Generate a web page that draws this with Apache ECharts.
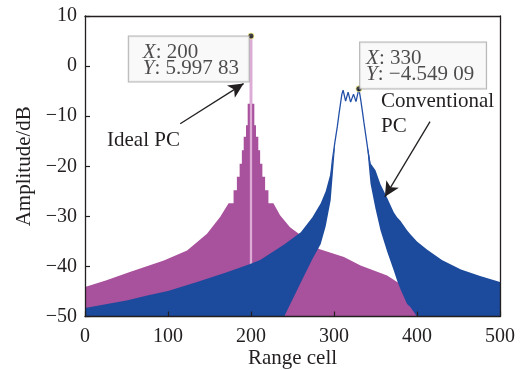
<!DOCTYPE html>
<html>
<head>
<meta charset="utf-8">
<script src="https://cdn.jsdelivr.net/npm/echarts@6/dist/echarts.min.js"></script>
<style>
  html, body { margin: 0; padding: 0; background: #fff; }
  #chart { width: 531px; height: 370px; }
</style>
</head>
<body>
<div id="chart"></div>
<script>
// Range axis and amplitude axis
const xTicks = [0, 100, 200, 300, 400, 500];
const yTicks = [-50, -40, -30, -20, -10, 0, 10];

// Ideal PC: envelope of the sidelobes, [range cell, dB]
const idealTailLeft = [[0, -44.1], [25, -42.8], [54, -41.1], [95, -38.8], [123, -36.8], [147, -33.5], [163, -30.1], [173, -27.4]];
// Near the peak the sampled sidelobes form a staircase
const idealPeak = [[173, -27.4], [179, -24.8], [183, -22.1], [186.3, -19.5], [189, -16.8], [191.2, -14.1], [194, -11.8], [196, -7.5],
  [200, 5.99783],
  [204, -7.5], [206, -11.8], [208.8, -14.1], [211, -16.8], [213.7, -19.5], [217, -22.1], [221, -24.8], [227, -27.4]];
const idealTailRight = [[227, -27.4], [235, -29.8], [247, -32.2], [260, -33.8], [282, -36.5], [312, -38.1], [332, -39.8], [364, -41.8], [376, -43.1], [400, -44.3], [450, -46.3], [500, -48.0]];

// Conventional PC: left sidelobe band (cells, lower and upper bound, dB)
const convLeftCells = [0, 50, 75, 100, 135, 170, 199, 211, 240, 260, 274, 284, 290, 296, 301];
const convLeftUpper = [-48.3, -46.8, -45.8, -44.9, -43.1, -41.2, -39.5, -38.7, -35.6, -33.2, -30.2, -27.4, -25.0, -21.3, -15.5];
const convLeftLower = [-50, -50, -50, -50, -50, -50, -50, -50, -50, -43.2, -38.5, -35.5, -32.0, -26.8, -16.5];

// Conventional PC: right sidelobe band
const convRightCells = [340, 342, 344, 350, 356, 364, 372, 376, 380, 388, 392, 400, 412, 430, 453, 476, 500];
const convRightUpper = [-15.8, -17.2, -19.4, -20.8, -23.6, -26.3, -29.2, -30.2, -30.9, -32.8, -33.6, -35.0, -36.6, -38.7, -40.6, -41.9, -43.1];
const convRightLower = [-16.0, -20.0, -23.5, -28.5, -32.8, -37.0, -40.8, -42.8, -44.5, -47.5, -48.1, -50, -50, -50, -50, -50, -50];

// Conventional PC: main lobe with its ripple
const convMainLobe = [[296, -22.0], [298, -18.8], [301, -15.3], [304, -12.1], [306, -9.6], [308, -7.3], [309.5, -5.6], [311, -4.8],
  [314, -7.0], [317, -5.2], [320, -7.2], [323.5, -5.6], [326.5, -7.1], [328.5, -5.6], [330, -4.54909],
  [332, -6.5], [334, -8.8], [336, -11.2], [338, -13.5], [340, -15.8], [342, -18.1], [344, -20.2], [346, -22.1]];

const FONT = '"Liberation Serif", "Times New Roman", serif';
const INK = '#231f20';
const MAGENTA = '#a8519c';
const BLUE = '#1c4a9c';
const yMin = yTicks[0], yMax = yTicks[yTicks.length - 1];
const xMin = xTicks[0], xMax = xTicks[xTicks.length - 1];

// staircase outline: between neighbours the level is the lower of the two
function stairs(pts) {
  const out = [pts[0]];
  for (let i = 1; i < pts.length; i++) {
    const m = Math.min(pts[i - 1][1], pts[i][1]);
    out.push([pts[i - 1][0], m], [pts[i][0], m], pts[i]);
  }
  return out;
}

// envelope closed down to the floor of the axis
const idealOutline = idealTailLeft.slice(0, -1)
  .concat(stairs(idealPeak))
  .concat(idealTailRight.slice(1))
  .concat([[xMax, yMin], [xMin, yMin]]);

function bandOutline(cells, lower, upper) {
  const top = cells.map((c, i) => [c, upper[i]]);
  const bottom = cells.map((c, i) => [c, lower[i]]).reverse();
  return top.concat(bottom);
}

function polygonSeries(name, outline, color, z) {
  return {
    name, type: 'custom', coordinateSystem: 'cartesian2d', z, silent: true,
    data: outline,
    renderItem: function (params, api) {
      if (params.dataIndex !== 0) return null;
      const pts = outline.map(p => api.coord(p));
      return { type: 'polygon', shape: { points: pts }, style: { fill: color } };
    }
  };
}

const idealPeakPoint = idealPeak.reduce((a, b) => (b[1] > a[1] ? b : a));
const convPeakPoint = convMainLobe.find(p => p[0] === 330);

function minus(v) { return v < 0 ? '\u2212' + Math.abs(v) : String(v); }
function tipNumber(v) {
  const s = Math.abs(v).toFixed(5).split('.');
  return (v < 0 ? '\u2212' : '') + s[0] + '.' + s[1].slice(0, 3) + ' ' + s[1].slice(3);
}
function tipText(p) {
  return '{i|X}: ' + p[0] + '\n{i|Y}: ' + tipNumber(p[1]);
}
const tipLabel = {
  show: true,
  formatter: params => tipText(params.data),
  fontFamily: FONT, fontSize: 21, lineHeight: 16, color: INK,
  align: 'left', verticalAlign: 'top',
  backgroundColor: '#f7f7f9', borderColor: '#a3a3a3', borderWidth: 1,
  rich: { i: { fontStyle: 'italic', fontFamily: FONT, fontSize: 21, lineHeight: 16, color: INK } }
};

const chart = echarts.init(document.getElementById('chart'), null, { renderer: 'canvas' });
chart.setOption({
  animation: false,
  backgroundColor: '#ffffff',
  grid: { left: 85, right: 31, top: 16, bottom: 53.5, containLabel: false, outerBoundsMode: 'none' },
  xAxis: [{
    type: 'value', min: xMin, max: xMax, interval: 100, z: 10,
    name: 'Range cell', nameLocation: 'middle', nameGap: 31, nameMoveOverlap: false,
    nameTextStyle: { fontFamily: FONT, fontSize: 21, color: INK },
    axisLine: { onZero: false, lineStyle: { color: INK, width: 1.3 } },
    axisTick: { inside: true, length: 5, lineStyle: { color: INK, width: 1.2 } },
    axisLabel: { fontFamily: FONT, fontSize: 20, color: INK, margin: 10 },
    splitLine: { show: false }
  }, {
    type: 'value', position: 'top', min: xMin, max: xMax, z: 10,
    axisLine: { show: true, onZero: false, lineStyle: { color: INK, width: 1.3 } },
    axisTick: { show: false }, axisLabel: { show: false }, splitLine: { show: false }
  }],
  yAxis: [{
    type: 'value', min: yMin, max: yMax, interval: 10, z: 10,
    name: 'Amplitude/dB', nameLocation: 'middle', nameGap: 50, nameMoveOverlap: false,
    nameTextStyle: { fontFamily: FONT, fontSize: 21, color: INK },
    axisLine: { show: true, onZero: false, lineStyle: { color: INK, width: 1.3 } },
    axisTick: { show: true, inside: true, length: 5, lineStyle: { color: INK, width: 1.2 } },
    axisLabel: { fontFamily: FONT, fontSize: 20, color: INK, margin: 8, formatter: minus },
    splitLine: { show: false }
  }, {
    type: 'value', position: 'right', min: yMin, max: yMax, z: 10,
    axisLine: { show: true, onZero: false, lineStyle: { color: INK, width: 1.3 } },
    axisTick: { show: false }, axisLabel: { show: false }, splitLine: { show: false }
  }],
  series: [
    polygonSeries('Ideal PC', idealOutline, MAGENTA, 1),
    {
      type: 'line', z: 2, silent: true, symbol: 'none',
      data: [[idealPeakPoint[0], yMin], idealPeakPoint],
      lineStyle: { color: '#c77cbf', width: 2.6 }
    },
    {
      type: 'line', z: 2, silent: true, symbol: 'none',
      data: [[idealPeakPoint[0], yMin], idealPeakPoint],
      lineStyle: { color: '#f1dbec', width: 1 }
    },
    polygonSeries('Conventional PC left', bandOutline(convLeftCells, convLeftLower, convLeftUpper), BLUE, 3),
    polygonSeries('Conventional PC right', bandOutline(convRightCells, convRightLower, convRightUpper), BLUE, 3),
    {
      name: 'Conventional PC', type: 'line', z: 4, silent: true, symbol: 'none',
      data: convMainLobe,
      lineStyle: { color: '#2451a8', width: 1.3 },
      markLine: {
        silent: true, symbol: ['none', 'arrow'], symbolSize: [11, 15],
        lineStyle: { color: INK, width: 1.3, type: 'solid' },
        label: { show: false },
        data: [
          [{ coord: [114.7, -11.5] }, { coord: [191.1, -3.5] }],
          [{ coord: [415.7, -11.1] }, { coord: [361.3, -26.1] }]
        ]
      }
    },
    {
      type: 'scatter', z: 6, silent: true, symbolSize: 6,
      itemStyle: { color: '#111111', borderColor: '#f6f08a', borderWidth: 1 },
      data: [idealPeakPoint],
      label: Object.assign({}, tipLabel, { position: [-118.7, 4], width: 96, height: 32, padding: [8, 10, 5, 14] })
    },
    {
      type: 'scatter', z: 6, silent: true, symbolSize: 6,
      itemStyle: { color: '#111111', borderColor: '#f6f08a', borderWidth: 1 },
      data: [convPeakPoint],
      label: Object.assign({}, tipLabel, { position: [4.7, -42.8], width: 111, height: 32, padding: [8, 9, 6, 6] })
    }
  ],
  graphic: [
    { type: 'text', left: 107, top: 130, silent: true,
      style: { text: 'Ideal PC', font: '21px ' + FONT, fill: INK } },
    { type: 'text', left: 381, top: 89, silent: true,
      style: { text: 'Conventional\nPC', font: '21px ' + FONT, fill: INK, lineHeight: 25 } }
  ]
});
</script>
</body>
</html>
